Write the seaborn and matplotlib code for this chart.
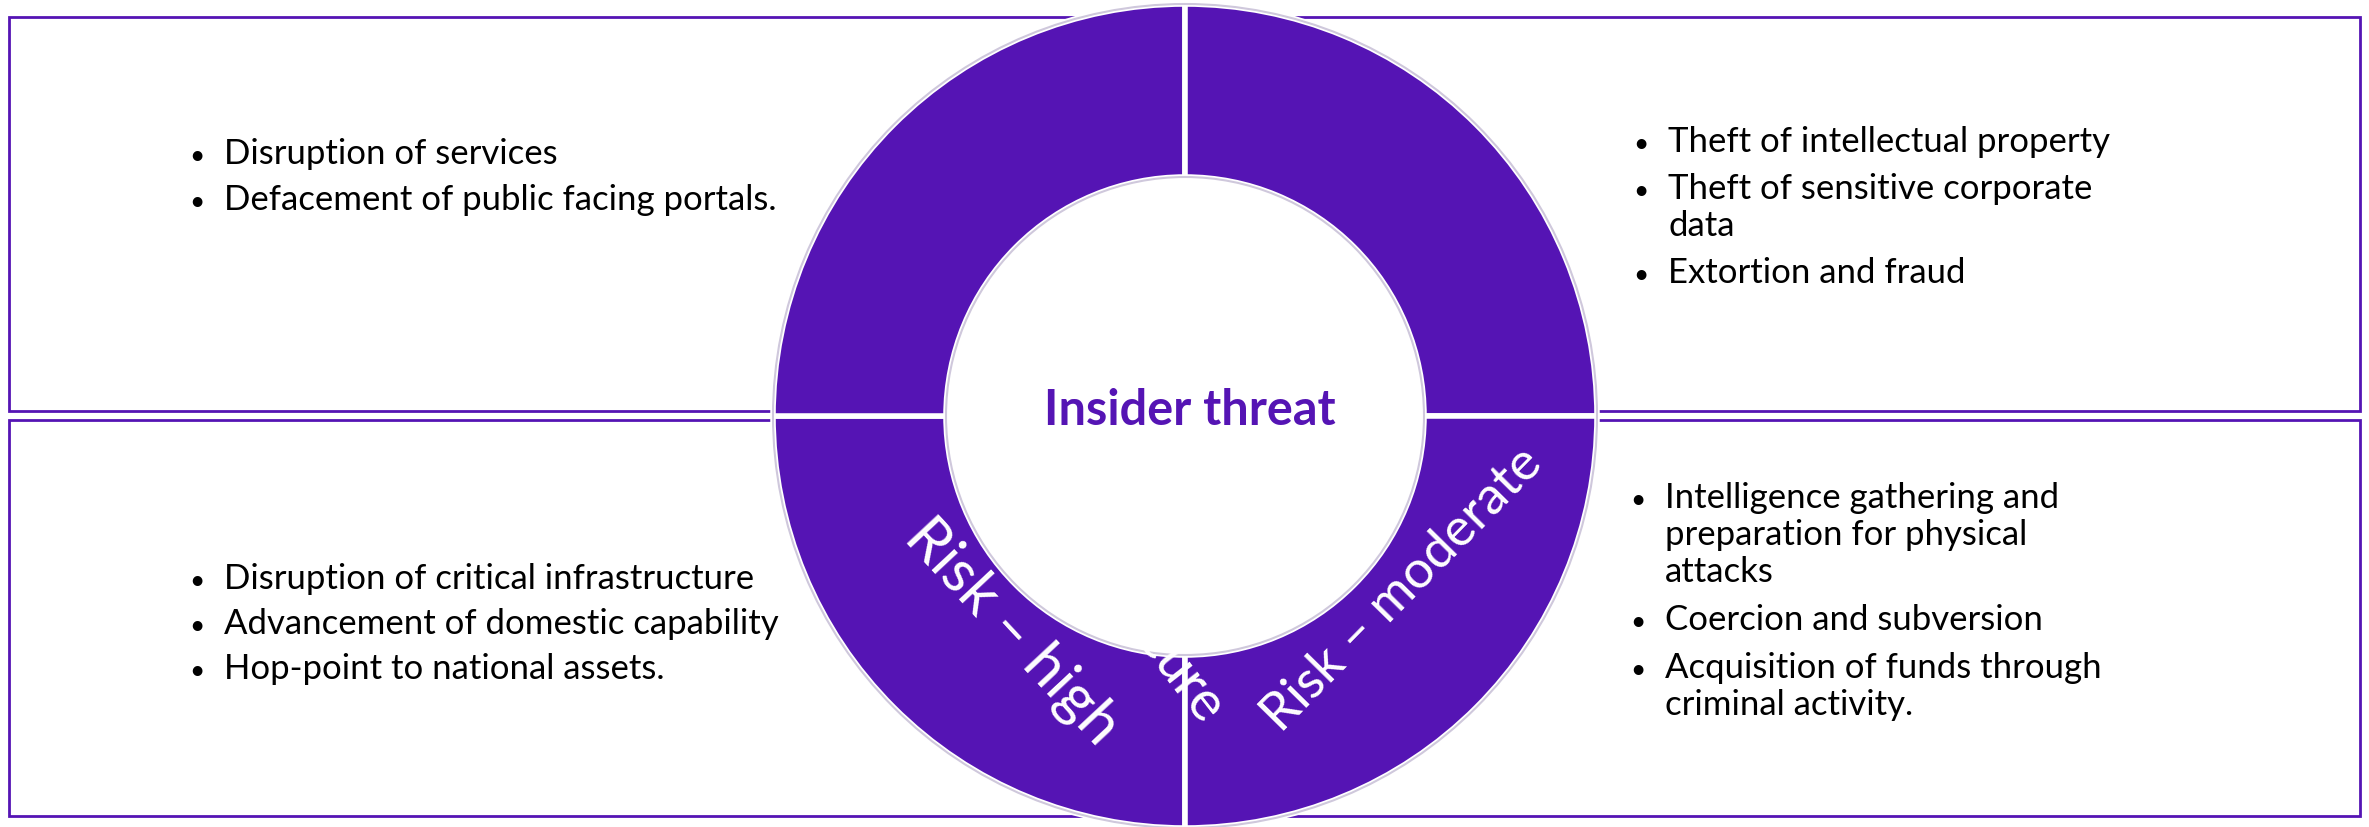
import matplotlib
matplotlib.use("Agg")
import matplotlib.pyplot as plt
import matplotlib.patches as mpatches
import seaborn as sns

# Datos del diagrama: cuatro cuadrantes iguales alrededor de "Insider threat"
cuadrantes = [1, 1, 1, 1]
titulo_centro = "Insider threat"
etiquetas_riesgo = ["Risk – high", "Risk – moderate", "Risk – secure"]

arriba_izq = ["Disruption of services", "Defacement of public facing portals."]
arriba_der = ["Theft of intellectual property",
              "Theft of sensitive corporate\ndata",
              "Extortion and fraud"]
abajo_izq = ["Disruption of critical infrastructure",
             "Advancement of domestic capability",
             "Hop-point to national assets."]
abajo_der = ["Intelligence gathering and\npreparation for physical\nattacks",
             "Coercion and subversion",
             "Acquisition of funds through\ncriminal activity."]

morado = "#5514B4"

sns.set_theme(style="white")
plt.rcParams['font.family'] = ['Lato', 'DejaVu Sans']

fig = plt.figure(figsize=(23.69, 8.28), dpi=100)
ax = fig.add_axes([0, 0, 1, 1])

# cajas de fondo
for y0, y1 in [(18, 412), (421, 817)]:
    ax.add_patch(mpatches.Rectangle((9, y0), 2351, y1 - y0, fill=False,
                                    edgecolor=morado, linewidth=2, zorder=1))

# anillo
cx, cy = 1185, 417
ax.pie(cuadrantes, radius=412, center=(cx, cy), startangle=90, colors=[morado] * 4,
       wedgeprops=dict(width=173, edgecolor="white", linewidth=4, zorder=2))
ax.add_patch(mpatches.Circle((cx, cy), 412, fill=False, edgecolor="#cfc8dc",
                             linewidth=1.5, zorder=3))
ax.add_patch(mpatches.Circle((cx, cy), 239, facecolor="white", edgecolor="#cfc8dc",
                             linewidth=1.5, zorder=3))

ax.set_xlim(0, 2369)
ax.set_ylim(828, 0)
ax.set_aspect("equal")
ax.axis("off")

ax.text(cx + 5, 411, titulo_centro, color=morado, fontsize=35, fontweight="bold",
        ha="center", va="center", zorder=10)

ax.text(1012, 632, etiquetas_riesgo[0], color="white", fontsize=43, rotation=-47,
        ha="center", va="center", rotation_mode="anchor", zorder=5)
ax.text(1402, 590, etiquetas_riesgo[1], color="white", fontsize=38, rotation=45.5,
        ha="center", va="center", rotation_mode="anchor", zorder=5)
ax.text(1214, 716, etiquetas_riesgo[2], color="white", fontsize=40, rotation=-52,
        ha="right", va="center", rotation_mode="anchor", zorder=4)


def bullets(items, x, y0, salto_linea, salto_item):
    y = y0
    for txt in items:
        ax.text(x - 27, y, "•", fontsize=19, color="black", ha="center",
                va="baseline", zorder=6)
        for linea in txt.split("\n"):
            ax.text(x, y, linea, fontsize=25, color="black", ha="left",
                    va="baseline", zorder=6)
            y += salto_linea
        y += salto_item - salto_linea


bullets(arriba_izq, 224, 164, 38, 46)
bullets(arriba_der, 1668, 152, 37, 47)
bullets(abajo_izq, 224, 589, 38, 45)
bullets(abajo_der, 1665, 508, 37, 48)

fig.savefig("out.png", dpi=100)
